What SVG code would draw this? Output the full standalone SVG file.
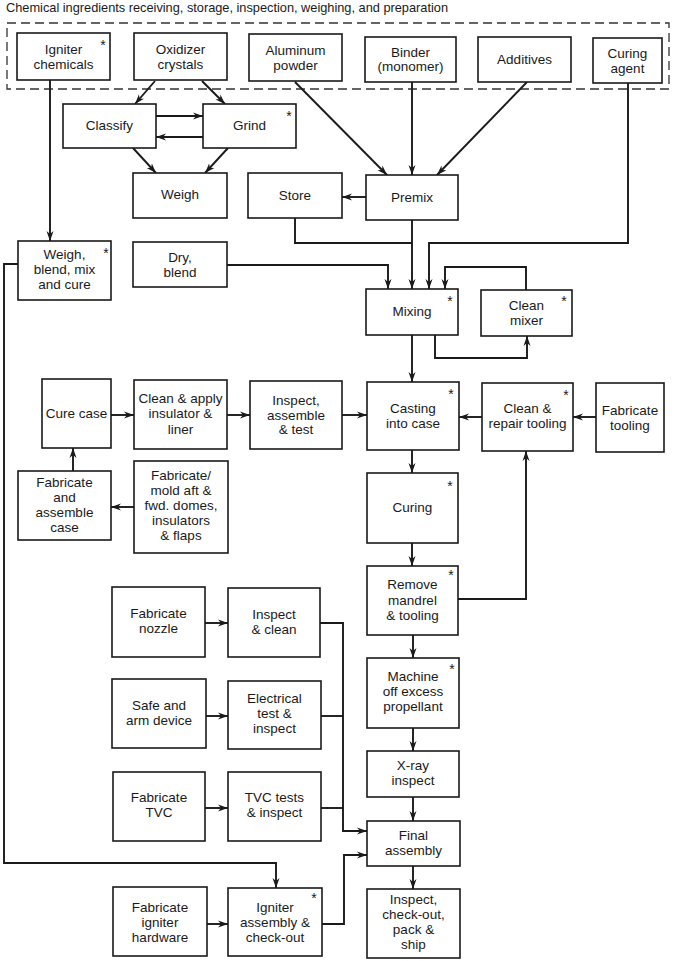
<svg xmlns="http://www.w3.org/2000/svg" width="675" height="961" viewBox="0 0 675 961">
<defs>
<style>
.bx{fill:#fff;stroke:#1a1a1a;stroke-width:1.6}
.t{font-family:"Liberation Sans",Arial,sans-serif;font-size:13.5px;fill:#1a1a1a;text-anchor:middle}
.st{font-family:"Liberation Sans",Arial,sans-serif;font-size:14px;fill:#1a1a1a;text-anchor:middle}
.ttl{font-family:"Liberation Sans",Arial,sans-serif;font-size:12.8px;fill:#1a1a1a}
.c{fill:none;stroke:#1a1a1a;stroke-width:1.9}
.a{marker-end:url(#ah)}
.dash{fill:none;stroke:#333;stroke-width:1.3;stroke-dasharray:9 5}
</style>
<marker id="ah" markerWidth="11" markerHeight="8" refX="10" refY="4" orient="auto" markerUnits="userSpaceOnUse"><path d="M0,0.5 L10,4 L0,7.5 L3,4 Z" fill="#1a1a1a"/></marker>
</defs>
<rect width="675" height="961" fill="#fff"/>
<text class="ttl" x="6" y="12" textLength="442" lengthAdjust="spacing">Chemical ingredients receiving, storage, inspection, weighing, and preparation</text>
<rect class="dash" x="7" y="23" width="662" height="66"/>

<g id="connectors">
<path class="c a" d="M50,80 V241"/>
<path class="c a" d="M155,81 L135,104"/>
<path class="c a" d="M202,81 L225,104"/>
<path class="c a" d="M156,116 H203"/>
<path class="c a" d="M203,137 H156"/>
<path class="c a" d="M133,148 L156,173"/>
<path class="c a" d="M228,148 L205,173"/>
<path class="c a" d="M295,82 L387,175"/>
<path class="c a" d="M412,82 V175"/>
<path class="c a" d="M527,82 L437,175"/>
<path class="c a" d="M366,197 H342"/>
<path class="c a" d="M628,83 V243 H429 V289"/>
<path class="c a" d="M412,220 V289"/>
<path class="c" d="M295,218 V243 H412"/>
<path class="c a" d="M227,265 H388 V289"/>
<path class="c a" d="M526,290 V267 H445 V289"/>
<path class="c a" d="M435,335 V358 H527 V336"/>
<path class="c a" d="M412,335 V382"/>
<path class="c a" d="M596,417 H573"/>
<path class="c a" d="M482,417 H459"/>
<path class="c a" d="M342,415 H367"/>
<path class="c a" d="M227,415 H250"/>
<path class="c a" d="M111,415 H134"/>
<path class="c a" d="M73,471 V448"/>
<path class="c a" d="M134,507 H111"/>
<path class="c a" d="M412,450 V473"/>
<path class="c a" d="M412,543 V566"/>
<path class="c a" d="M458,599 H526 V451"/>
<path class="c a" d="M413,635 V658"/>
<path class="c a" d="M413,728 V751"/>
<path class="c a" d="M413,797 V821"/>
<path class="c a" d="M413,866 V889"/>
<path class="c a" d="M18,264 H4 V863 H276 V888"/>
<path class="c a" d="M205,623 H228"/>
<path class="c a" d="M206,716 H228"/>
<path class="c a" d="M205,808 H228"/>
<path class="c a" d="M207,924 H228"/>
<path class="c a" d="M320,623 H343 V831 H367"/>
<path class="c" d="M321,716 H343"/>
<path class="c" d="M321,808 H343"/>
<path class="c a" d="M322,924 H344 V855 H367"/>
</g>

<g id="n_igniter_chem"><rect class="bx" x="17" y="33" width="93" height="47"/><text class="t" x="63.5" y="54">Igniter</text><text class="t" x="63.5" y="69">chemicals</text><text class="st" x="103" y="50">*</text></g>
<g id="n_oxidizer"><rect class="bx" x="134" y="33" width="93" height="47"/><text class="t" x="180.5" y="54">Oxidizer</text><text class="t" x="180.5" y="69">crystals</text></g>
<g id="n_aluminum"><rect class="bx" x="249" y="34" width="93" height="47"/><text class="t" x="295.5" y="55">Aluminum</text><text class="t" x="295.5" y="70">powder</text></g>
<g id="n_binder"><rect class="bx" x="365" y="37" width="91" height="45"/><text class="t" x="410.5" y="57">Binder</text><text class="t" x="410.5" y="71">(monomer)</text></g>
<g id="n_additives"><rect class="bx" x="478" y="37" width="93" height="45"/><text class="t" x="524.5" y="64">Additives</text></g>
<g id="n_curing_agent"><rect class="bx" x="593" y="38" width="69" height="45"/><text class="t" x="627.5" y="58">Curing</text><text class="t" x="627.5" y="73">agent</text></g>

<g id="n_classify"><rect class="bx" x="63" y="104" width="93" height="44"/><text class="t" x="109.5" y="130">Classify</text></g>
<g id="n_grind"><rect class="bx" x="203" y="104" width="93" height="44"/><text class="t" x="249.5" y="130">Grind</text><text class="st" x="289" y="121">*</text></g>
<g id="n_weigh"><rect class="bx" x="133" y="173" width="94" height="45"/><text class="t" x="180" y="199">Weigh</text></g>
<g id="n_dry_blend"><rect class="bx" x="133" y="242" width="94" height="45"/><text class="t" x="180" y="262">Dry,</text><text class="t" x="180" y="277">blend</text></g>
<g id="n_store"><rect class="bx" x="248" y="173" width="94" height="45"/><text class="t" x="295" y="200">Store</text></g>
<g id="n_premix"><rect class="bx" x="366" y="175" width="92" height="45"/><text class="t" x="412" y="202">Premix</text></g>
<g id="n_weigh_blend"><rect class="bx" x="18" y="241" width="93" height="59"/><text class="t" x="64.5" y="259">Weigh,</text><text class="t" x="64.5" y="274">blend, mix</text><text class="t" x="64.5" y="289">and cure</text><text class="st" x="106" y="258">*</text></g>
<g id="n_mixing"><rect class="bx" x="366" y="289" width="92" height="46"/><text class="t" x="412" y="316">Mixing</text><text class="st" x="450" y="306">*</text></g>
<g id="n_clean_mixer"><rect class="bx" x="481" y="290" width="91" height="46"/><text class="t" x="526.5" y="310">Clean</text><text class="t" x="526.5" y="325">mixer</text><text class="st" x="564" y="306">*</text></g>

<g id="n_cure_case"><rect class="bx" x="42" y="379" width="69" height="69"/><text class="t" x="76.5" y="418">Cure case</text></g>
<g id="n_clean_apply"><rect class="bx" x="134" y="380" width="93" height="69"/><text class="t" x="180.5" y="403">Clean &amp; apply</text><text class="t" x="180.5" y="418">insulator &amp;</text><text class="t" x="180.5" y="434">liner</text></g>
<g id="n_inspect_assemble"><rect class="bx" x="250" y="381" width="92" height="68"/><text class="t" x="296" y="405">Inspect,</text><text class="t" x="296" y="420">assemble</text><text class="t" x="296" y="434">&amp; test</text></g>
<g id="n_casting"><rect class="bx" x="367" y="382" width="92" height="68"/><text class="t" x="413" y="413">Casting</text><text class="t" x="413" y="428">into case</text><text class="st" x="451" y="399">*</text></g>
<g id="n_clean_repair"><rect class="bx" x="482" y="383" width="91" height="68"/><text class="t" x="527.5" y="413">Clean &amp;</text><text class="t" x="527.5" y="428">repair tooling</text><text class="st" x="566" y="400">*</text></g>
<g id="n_fab_tooling"><rect class="bx" x="596" y="383" width="68" height="69"/><text class="t" x="630" y="415">Fabricate</text><text class="t" x="630" y="430">tooling</text></g>
<g id="n_fab_case"><rect class="bx" x="18" y="471" width="93" height="69"/><text class="t" x="64.5" y="487">Fabricate</text><text class="t" x="64.5" y="502">and</text><text class="t" x="64.5" y="517">assemble</text><text class="t" x="64.5" y="532">case</text></g>
<g id="n_fab_mold"><rect class="bx" x="134" y="461" width="94" height="92"/><text class="t" x="181" y="480">Fabricate/</text><text class="t" x="181" y="495">mold aft &amp;</text><text class="t" x="181" y="510">fwd. domes,</text><text class="t" x="181" y="525">insulators</text><text class="t" x="181" y="540">&amp; flaps</text></g>
<g id="n_curing"><rect class="bx" x="367" y="473" width="91" height="70"/><text class="t" x="412.5" y="512">Curing</text><text class="st" x="450" y="491">*</text></g>
<g id="n_remove"><rect class="bx" x="367" y="566" width="91" height="69"/><text class="t" x="412.5" y="589">Remove</text><text class="t" x="412.5" y="605">mandrel</text><text class="t" x="412.5" y="620">&amp; tooling</text><text class="st" x="451" y="580">*</text></g>
<g id="n_machine"><rect class="bx" x="367" y="658" width="92" height="70"/><text class="t" x="413" y="681">Machine</text><text class="t" x="413" y="696">off excess</text><text class="t" x="413" y="711">propellant</text><text class="st" x="452" y="674">*</text></g>
<g id="n_xray"><rect class="bx" x="367" y="751" width="92" height="46"/><text class="t" x="413" y="770">X-ray</text><text class="t" x="413" y="785">inspect</text></g>
<g id="n_final"><rect class="bx" x="367" y="821" width="93" height="45"/><text class="t" x="413.5" y="840">Final</text><text class="t" x="413.5" y="855">assembly</text></g>
<g id="n_ship"><rect class="bx" x="367" y="889" width="93" height="69"/><text class="t" x="413.5" y="904">Inspect,</text><text class="t" x="413.5" y="919">check-out,</text><text class="t" x="413.5" y="934">pack &amp;</text><text class="t" x="413.5" y="949">ship</text></g>

<g id="n_fab_nozzle"><rect class="bx" x="112" y="587" width="93" height="70"/><text class="t" x="158.5" y="618">Fabricate</text><text class="t" x="158.5" y="633">nozzle</text></g>
<g id="n_inspect_clean"><rect class="bx" x="228" y="588" width="92" height="69"/><text class="t" x="274" y="619">Inspect</text><text class="t" x="274" y="634">&amp; clean</text></g>
<g id="n_safe_arm"><rect class="bx" x="112" y="679" width="94" height="69"/><text class="t" x="159" y="710">Safe and</text><text class="t" x="159" y="725">arm device</text></g>
<g id="n_electrical"><rect class="bx" x="228" y="681" width="93" height="68"/><text class="t" x="274.5" y="703">Electrical</text><text class="t" x="274.5" y="718">test &amp;</text><text class="t" x="274.5" y="733">inspect</text></g>
<g id="n_fab_tvc"><rect class="bx" x="113" y="772" width="92" height="69"/><text class="t" x="159" y="802">Fabricate</text><text class="t" x="159" y="817">TVC</text></g>
<g id="n_tvc_tests"><rect class="bx" x="228" y="772" width="93" height="69"/><text class="t" x="274.5" y="802">TVC tests</text><text class="t" x="274.5" y="817">&amp; inspect</text></g>
<g id="n_fab_igniter_hw"><rect class="bx" x="113" y="887" width="94" height="69"/><text class="t" x="160" y="912">Fabricate</text><text class="t" x="160" y="927">igniter</text><text class="t" x="160" y="942">hardware</text></g>
<g id="n_igniter_assembly"><rect class="bx" x="228" y="888" width="94" height="68"/><text class="t" x="275" y="912">Igniter</text><text class="t" x="275" y="927">assembly &amp;</text><text class="t" x="275" y="942">check-out</text><text class="st" x="314" y="903">*</text></g>
</svg>
